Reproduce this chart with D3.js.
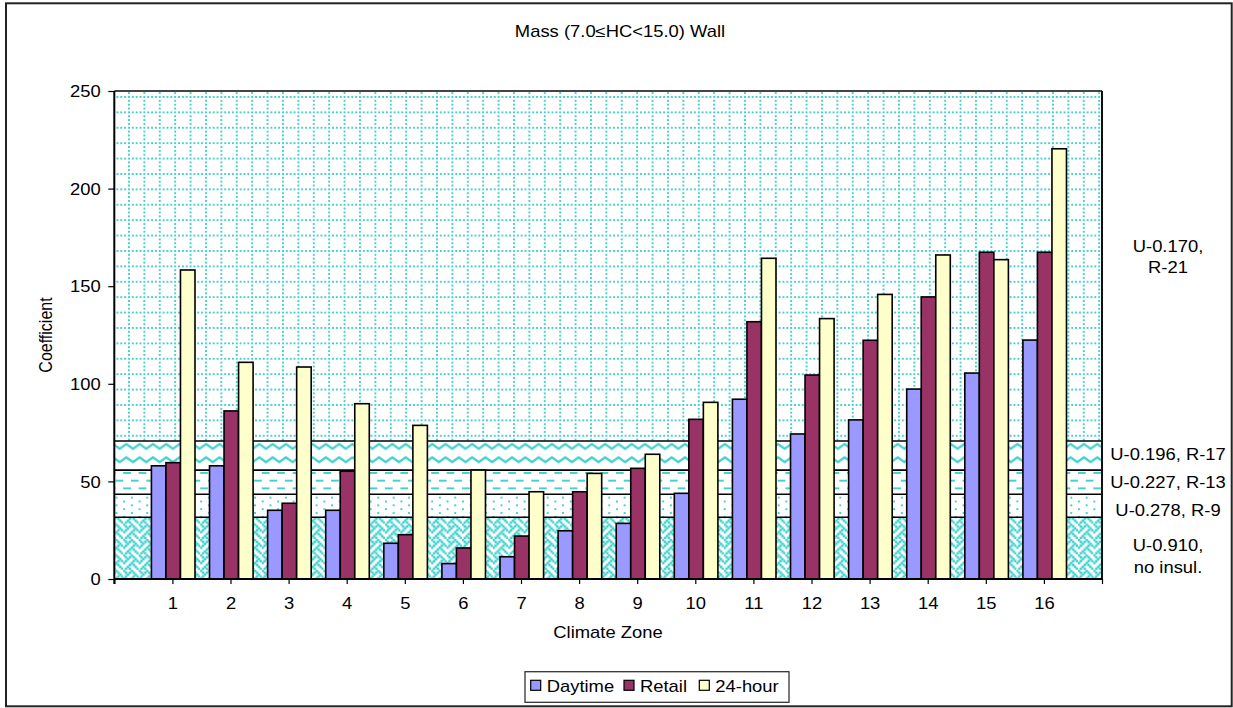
<!DOCTYPE html>
<html>
<head>
<meta charset="utf-8">
<script src="https://cdn.jsdelivr.net/npm/d3@7"></script>
<style>
  body { margin: 0; background: #fff; }
  svg { display: block; }
  text { font-family: "Liberation Sans", Arial, Helvetica, sans-serif; fill: #000; }
</style>
</head>
<body>
<svg id="chart" width="1233" height="708"></svg>
<script>
// ---- data ----
const zones = [1, 2, 3, 4, 5, 6, 7, 8, 9, 10, 11, 12, 13, 14, 15, 16];
const daytime = [58.0, 58.0, 35.2, 35.2, 18.3, 7.9, 11.4, 24.7, 28.5, 43.9, 92.1, 74.3, 81.5, 97.3, 105.5, 122.4];
const retail  = [59.6, 86.1, 38.8, 55.2, 22.7, 15.9, 22.0, 44.7, 56.7, 81.8, 131.8, 104.5, 122.3, 144.5, 167.4, 167.4];
const hour24  = [158.3, 111.0, 108.6, 89.8, 78.7, 55.8, 44.7, 54.1, 63.9, 90.5, 164.3, 133.4, 145.8, 166.0, 163.6, 220.4];
const seriesNames = ["Daytime", "Retail", "24-hour"];
const yTicks = [0, 50, 100, 150, 200, 250];

// insulation levels: coefficient thresholds separating the shaded bands
const bandBreaks = [0, 31.6, 43.4, 55.8, 70.7, 250];
const bandLabels = [["U-0.910,", "no insul."], ["U-0.278, R-9"], ["U-0.227, R-13"], ["U-0.196, R-17"], ["U-0.170,", "R-21"]];

// ---- layout & style ----
const seriesColors = ["#9999FF", "#993366", "#FFFFCC"];
const bandPatternIds = ["weave", "dots", "dashes", "wave", "grid"];
const bandLabelCenters = [11.8, 35.3, 49.8, 63.9, 165];  // vertical placement of side notes (axis units)
const plot = { left: 114.3, right: 1102, top: 91, bottom: 579 };
const SX = 1.15;   // horizontal text stretch
const FS = 16;
const teal = "#45D0D0";

const svg = d3.select("#chart");
const defs = svg.append("defs");

const x = d3.scaleLinear().domain([0, 17]).range([plot.left, plot.right]);
const y = d3.scaleLinear().domain([0, 250]).range([plot.bottom, plot.top]);

// ---- fill patterns (8x8 bitmaps) ----
const cell = 1.925;
function bitmapPattern(id, rows, ox, oy, dotScale = 1) {
  const p = defs.append("pattern").attr("id", id).attr("patternUnits", "userSpaceOnUse")
    .attr("x", ox).attr("y", oy).attr("width", cell * 8).attr("height", cell * 8);
  p.append("rect").attr("width", cell * 8).attr("height", cell * 8).attr("fill", "#fff");
  const sz = cell * dotScale, off = (sz - cell) / 2;
  rows.forEach((r, i) => [...r].forEach((c, j) => {
    if (c === "1") p.append("rect").attr("x", j * cell - off).attr("y", i * cell - off)
      .attr("width", sz).attr("height", sz).attr("fill", teal);
  }));
}
bitmapPattern("grid", [
  "10101010", "00000000", "10000000", "00000000",
  "10000000", "00000000", "10000000", "00000000"], 128, 96);
bitmapPattern("dashes", [
  "11110000", "00000000", "00000000", "00000000",
  "00001111", "00000000", "00000000", "00000000"], 0, 472);
bitmapPattern("dots", [
  "10000000", "00000000", "00001000", "00000000",
  "10000000", "00000000", "00001000", "00000000"], 0, 0);
bitmapPattern("weave", [
  "10001000", "01010100", "00100010", "01000101",
  "10001000", "00010100", "00100010", "01010001"], 0, 0, 1.35);
(function wavePattern() {
  const w = 13.3, h = 13.3;
  const p = defs.append("pattern").attr("id", "wave").attr("patternUnits", "userSpaceOnUse")
    .attr("x", 0).attr("y", 440).attr("width", w).attr("height", h);
  p.append("rect").attr("width", w).attr("height", h).attr("fill", "#fff");
  p.append("path").attr("d", `M-1,9.5 L${w / 2},4 L${w + 1},9.5`)
    .attr("fill", "none").attr("stroke", teal).attr("stroke-width", 2.2).attr("stroke-linejoin", "round");
})();

// ---- text helper (stretched horizontally) ----
function addText(g, px, py, str, anchor = "middle", size = FS) {
  return g.append("text")
    .attr("transform", `translate(${px},${py}) scale(${SX},1)`)
    .attr("text-anchor", anchor).attr("font-size", size).text(str);
}

// ---- chart frame ----
svg.append("rect").attr("x", 6).attr("y", 3.3).attr("width", 1225.7).attr("height", 703)
  .attr("fill", "#fff").attr("stroke", "#222").attr("stroke-width", 2);

addText(svg, 620, 36.5, "Mass (7.0\u2264HC<15.0) Wall");

// ---- shaded bands ----
const bands = d3.range(bandPatternIds.length).map(i => ({
  lo: bandBreaks[i], hi: bandBreaks[i + 1], pat: bandPatternIds[i], label: bandLabels[i], at: bandLabelCenters[i]
}));
const gBands = svg.append("g");
gBands.selectAll("rect").data(bands).join("rect")
  .attr("x", x(0)).attr("width", x(17) - x(0))
  .attr("y", d => y(d.hi)).attr("height", d => y(d.lo) - y(d.hi))
  .attr("fill", d => `url(#${d.pat})`);
gBands.selectAll("line").data(bandBreaks.slice(1, -1)).join("line")
  .attr("x1", x(0)).attr("x2", x(17)).attr("y1", d => y(d)).attr("y2", d => y(d))
  .attr("stroke", "#000").attr("stroke-width", 1.6);

// side notes for each band
const gNotes = svg.append("g");
bands.forEach(b => {
  const n = b.label.length, lh = 21.5;
  b.label.forEach((line, k) => {
    addText(gNotes, 1168, y(b.at) + 5.8 + (k - (n - 1) / 2) * lh, line);
  });
});

// ---- bars ----
const bw = (x(1) - x(0)) / 4;
[daytime, retail, hour24].forEach((vals, si) => {
  svg.append("g").selectAll("rect").data(vals).join("rect")
    .attr("x", (d, i) => x(zones[i]) - 1.5 * bw + si * bw + 0.8)
    .attr("y", d => y(d))
    .attr("width", bw)
    .attr("height", d => y(0) - y(d))
    .attr("fill", seriesColors[si])
    .attr("stroke", "#000").attr("stroke-width", 1.6);
});

// ---- axes ----
const gx = svg.append("g").attr("transform", `translate(0,${plot.bottom})`)
  .call(d3.axisBottom(x).tickValues(d3.range(0, 18)).tickSize(5).tickSizeOuter(0)
    .tickFormat(d => zones.includes(d) ? d : ""));
gx.select(".domain").remove();
gx.selectAll(".tick line").attr("stroke", "#000").attr("stroke-width", 1.2);
gx.selectAll(".tick text").attr("font-size", FS).attr("font-family", null)
  .attr("y", 18.5).attr("dy", "0.71em").attr("transform", `scale(${SX},1)`);

const gy = svg.append("g").attr("transform", `translate(${plot.left},0)`)
  .call(d3.axisLeft(y).tickValues(yTicks).tickSize(6).tickSizeOuter(0));
gy.select(".domain").remove();
gy.selectAll(".tick line").attr("stroke", "#000").attr("stroke-width", 1.2);
gy.selectAll(".tick text").attr("font-size", FS).attr("font-family", null)
  .attr("x", 0).attr("dy", "0.36em").attr("transform", `translate(-13.5,0) scale(${SX},1)`);

// plot border
svg.append("line").attr("x1", plot.left).attr("x2", plot.right).attr("y1", plot.top).attr("y2", plot.top)
  .attr("stroke", "#444").attr("stroke-width", 2);
svg.append("line").attr("x1", plot.right).attr("x2", plot.right).attr("y1", plot.top).attr("y2", plot.bottom)
  .attr("stroke", "#111").attr("stroke-width", 2);
svg.append("line").attr("x1", plot.left).attr("x2", plot.left).attr("y1", plot.top).attr("y2", plot.bottom + 5)
  .attr("stroke", "#000").attr("stroke-width", 2);
svg.append("line").attr("x1", plot.left).attr("x2", plot.right).attr("y1", plot.bottom).attr("y2", plot.bottom)
  .attr("stroke", "#000").attr("stroke-width", 2);

// axis titles
addText(svg, 608, 638, "Climate Zone");
svg.append("text")
  .attr("transform", `translate(52.3,335) scale(${SX},1) rotate(-90)`)
  .attr("text-anchor", "middle").attr("font-size", FS).text("Coefficient");

// ---- legend ----
const gLeg = svg.append("g");
gLeg.append("rect").attr("x", 525).attr("y", 671.7).attr("width", 264).attr("height", 30.6)
  .attr("fill", "#fff").attr("stroke", "#333").attr("stroke-width", 1.3);
const legX = [530.7, 624, 699.3];
seriesNames.forEach((name, i) => {
  gLeg.append("rect").attr("x", legX[i]).attr("y", 680.3).attr("width", 10).attr("height", 10)
    .attr("fill", seriesColors[i]).attr("stroke", "#000").attr("stroke-width", 1.2);
  addText(gLeg, legX[i] + 16, 692, name, "start");
});
</script>
</body>
</html>
